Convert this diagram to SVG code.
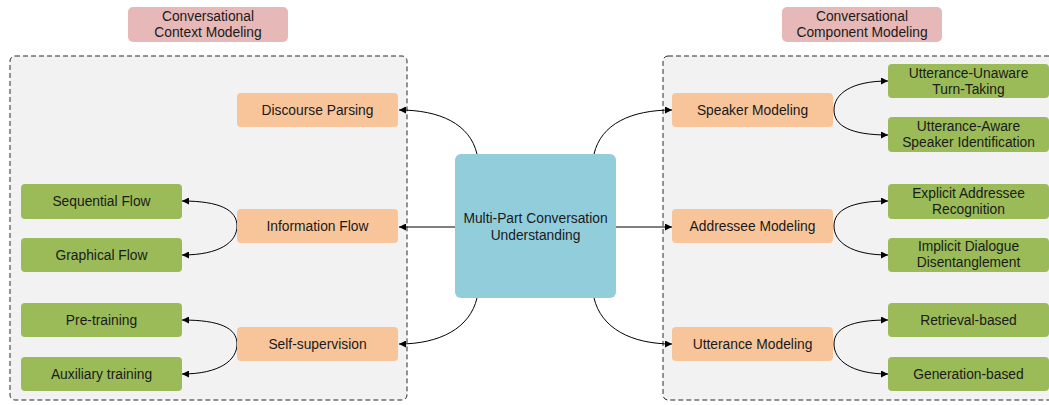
<svg xmlns="http://www.w3.org/2000/svg" width="1049" height="405" viewBox="0 0 1049 405">
  <defs>
    <marker id="arrow" viewBox="0 0 10 10" refX="10" refY="5" markerWidth="7" markerHeight="7" markerUnits="userSpaceOnUse" orient="auto">
      <path d="M0,0 L10,5 L0,10 z" fill="#000"/>
    </marker>
    <style>
      .panel { fill: #f2f2f2; stroke: #2b2b2b; stroke-width: 1; stroke-dasharray: 5 3; }
      .title { fill: #e6b8b7; }
      .cat { fill: #f8c59b; }
      .leaf { fill: #9bbb59; }
      .core { fill: #92cddc; }
      text { font-family: "Liberation Sans", Arial, sans-serif; font-size: 13.8px; fill: #1a1a1a; text-anchor: middle; }
      .edge { fill: none; stroke: #000; stroke-width: 1; marker-end: url(#arrow); }
    </style>
  </defs>
  <rect width="1049" height="405" fill="#fff"/>

  <!-- panels -->
  <rect class="panel" x="10" y="56" width="397" height="344" rx="5"/>
  <rect class="panel" x="663" y="56" width="395" height="344" rx="5"/>

  <!-- panel titles -->
  <g id="title-context">
    <rect class="title" x="128" y="7" width="160" height="35" rx="5"/>
    <text x="208" y="21">Conversational</text>
    <text x="208" y="37">Context Modeling</text>
  </g>
  <g id="title-component">
    <rect class="title" x="782" y="7" width="160" height="35" rx="5"/>
    <text x="862" y="21">Conversational</text>
    <text x="862" y="37">Component Modeling</text>
  </g>

  <!-- connectors -->
  <g id="connectors">
    <path class="edge" d="M455,227 L399,227"/>
    <path class="edge" d="M616,227 L672,227"/>
    <path class="edge" d="M477,154 C470,124 440,110 399,110"/>
    <path class="edge" d="M594,154 C601,124 631,110 672,110"/>
    <path class="edge" d="M477,298 C470,328 440,344 399,344"/>
    <path class="edge" d="M594,298 C601,328 631,344 672,344"/>
    <!-- left branches -->
    <path class="edge" d="M237,226 C237,210 220,201 182,201"/>
    <path class="edge" d="M237,226 C237,242 220,255 182,255"/>
    <path class="edge" d="M237,344 C237,328 220,320 182,320"/>
    <path class="edge" d="M237,344 C237,360 220,374 182,374"/>
    <!-- right branches -->
    <path class="edge" d="M834,110 C834,94 851,81 888,81"/>
    <path class="edge" d="M834,110 C834,126 851,135 888,135"/>
    <path class="edge" d="M834,226 C834,210 851,201 888,201"/>
    <path class="edge" d="M834,226 C834,242 851,255 888,255"/>
    <path class="edge" d="M834,344 C834,328 851,320 888,320"/>
    <path class="edge" d="M834,344 C834,360 851,374 888,374"/>
  </g>

  <!-- central node -->
  <g id="mpc">
    <rect class="core" x="455" y="154" width="161" height="144" rx="6"/>
    <text x="535.5" y="223">Multi-Part Conversation</text>
    <text x="535.5" y="240">Understanding</text>
  </g>

  <!-- context modeling -->
  <g id="discourse-parsing">
    <rect class="cat" x="237" y="93" width="161" height="34" rx="4"/>
    <text x="317.5" y="115">Discourse Parsing</text>
  </g>
  <g id="information-flow">
    <rect class="cat" x="237" y="209" width="161" height="34" rx="4"/>
    <text x="317.5" y="231">Information Flow</text>
  </g>
  <g id="self-supervision">
    <rect class="cat" x="237" y="327" width="161" height="34" rx="4"/>
    <text x="317.5" y="349">Self-supervision</text>
  </g>
  <g id="sequential-flow">
    <rect class="leaf" x="21" y="184" width="161" height="35" rx="4"/>
    <text x="101.5" y="206">Sequential Flow</text>
  </g>
  <g id="graphical-flow">
    <rect class="leaf" x="21" y="238" width="161" height="34" rx="4"/>
    <text x="101.5" y="260">Graphical Flow</text>
  </g>
  <g id="pre-training">
    <rect class="leaf" x="21" y="303" width="161" height="34" rx="4"/>
    <text x="101.5" y="325">Pre-training</text>
  </g>
  <g id="auxiliary-training">
    <rect class="leaf" x="21" y="357" width="161" height="34" rx="4"/>
    <text x="101.5" y="379">Auxiliary training</text>
  </g>

  <!-- component modeling -->
  <g id="speaker-modeling">
    <rect class="cat" x="672" y="93" width="161" height="34" rx="4"/>
    <text x="752.5" y="115">Speaker Modeling</text>
  </g>
  <g id="addressee-modeling">
    <rect class="cat" x="672" y="209" width="161" height="34" rx="4"/>
    <text x="752.5" y="231">Addressee Modeling</text>
  </g>
  <g id="utterance-modeling">
    <rect class="cat" x="672" y="327" width="161" height="34" rx="4"/>
    <text x="752.5" y="349">Utterance Modeling</text>
  </g>
  <g id="turn-taking">
    <rect class="leaf" x="888" y="64" width="161" height="34" rx="4"/>
    <text x="968.5" y="78">Utterance-Unaware</text>
    <text x="968.5" y="94">Turn-Taking</text>
  </g>
  <g id="speaker-identification">
    <rect class="leaf" x="888" y="117" width="161" height="35" rx="4"/>
    <text x="968.5" y="131">Utterance-Aware</text>
    <text x="968.5" y="147">Speaker Identification</text>
  </g>
  <g id="addressee-recognition">
    <rect class="leaf" x="888" y="184" width="161" height="35" rx="4"/>
    <text x="968.5" y="198">Explicit Addressee</text>
    <text x="968.5" y="214">Recognition</text>
  </g>
  <g id="disentanglement">
    <rect class="leaf" x="888" y="238" width="161" height="34" rx="4"/>
    <text x="968.5" y="251">Implicit Dialogue</text>
    <text x="968.5" y="267">Disentanglement</text>
  </g>
  <g id="retrieval-based">
    <rect class="leaf" x="888" y="303" width="161" height="34" rx="4"/>
    <text x="968.5" y="325">Retrieval-based</text>
  </g>
  <g id="generation-based">
    <rect class="leaf" x="888" y="357" width="161" height="34" rx="4"/>
    <text x="968.5" y="379">Generation-based</text>
  </g>
</svg>
